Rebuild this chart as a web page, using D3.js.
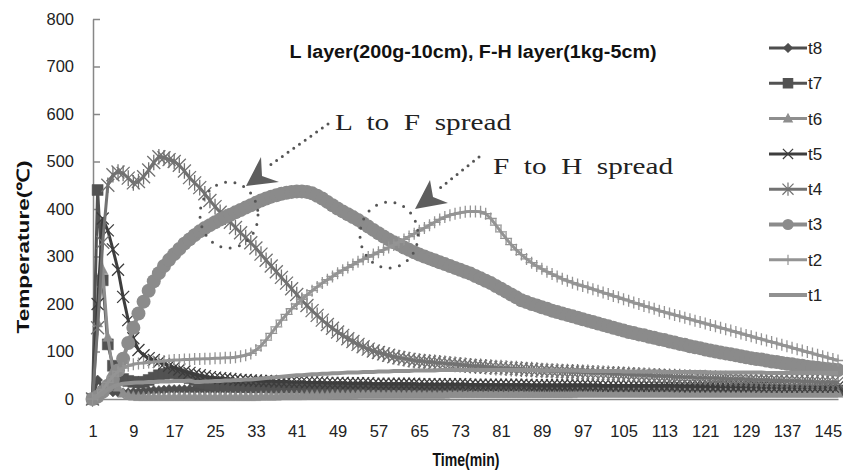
<!DOCTYPE html>
<html><head><meta charset="utf-8">
<script src="https://cdn.jsdelivr.net/npm/d3@7"></script>
<style>body{margin:0;background:#fff}svg{display:block}</style>
</head><body>
<svg id="chart" width="843" height="472"></svg>
<script>
const minutes = [1,2,3,4,5,6,7,8,9,10,11,12,13,14,15,16,17,18,19,20,21,22,23,24,25,26,27,28,29,30,31,32,33,34,35,36,37,38,39,40,41,42,43,44,45,46,47,48,49,50,51,52,53,54,55,56,57,58,59,60,61,62,63,64,65,66,67,68,69,70,71,72,73,74,75,76,77,78,79,80,81,82,83,84,85,86,87,88,89,90,91,92,93,94,95,96,97,98,99,100,101,102,103,104,105,106,107,108,109,110,111,112,113,114,115,116,117,118,119,120,121,122,123,124,125,126,127,128,129,130,131,132,133,134,135,136,137,138,139,140,141,142,143,144,145,146,147];
const xTickLabels = [1,9,17,25,33,41,49,57,65,73,81,89,97,105,113,121,129,137,145];
const yTickLabels = [0,100,200,300,400,500,600,700,800];
const seriesNames = ["t8","t7","t6","t5","t4","t3","t2","t1"];

const t8 = [0,40,25,18,15,14,13,13,14,15, 16,17,18,18,19,20,20,20,20,20, 20,20,20,20,20,20,20,20,20,20, 20,20,20,20,20,20,20,20,20,20, 20,20,20,20,20,20,20,20,20,20, 20,20,20,20,20,20,20,20,20,20, 20,20,20,20,20,20,20,20,20,20, 20,20,20,20,20,20,20,20,20,20, 20,20,20,20,20,19,19,19,19,19, 19,19,19,19,19,19,19,19,19,19, 19,19,19,19,19,19,19,19,19,19, 19,19,19,19,19,19,19,19,19,19, 18,18,18,18,18,18,18,18,18,18, 18,18,18,18,18,18,18,18,18,18, 18,18,18,18,18,18,18];
const t7 = [0,440,250,115,70,50,42,38,36,35, 36,40,45,50,53,55,55,52,48,44, 40,36,33,31,30,29,28,27,26,26, 25,25,25,25,25,24,24,24,24,24, 24,24,23,23,23,23,23,23,23,23, 22,22,22,22,22,22,22,22,22,22, 22,22,21,21,21,21,21,21,21,21, 21,21,21,21,21,21,20,20,20,20, 20,20,20,20,20,20,20,20,20,20, 20,20,20,20,20,20,20,20,19,19, 19,19,19,19,19,19,19,19,19,19, 19,19,19,19,19,19,19,19,19,19, 18,18,18,18,18,18,18,18,18,18, 18,18,18,18,18,18,18,18,18,18, 18,18,18,18,18,18,18];
const t6 = [0,160,272,130,60,25,12,8,6,5, 5,5,5,5,5,5,5,5,5,5, 5,5,5,5,5,5,5,5,5,5, 5,5,5,6,6,6,6,7,7,7, 7,7,8,8,8,8,8,9,9,9, 9,9,10,10,10,10,10,10,10,10, 10,10,10,10,10,10,10,10,10,10, 11,11,11,11,11,11,11,11,11,11, 11,11,11,11,11,11,11,11,11,11, 11,11,11,11,11,12,12,12,12,12, 12,12,12,12,12,12,12,12,12,12, 12,12,12,12,12,12,12,12,12,12, 12,12,12,12,12,12,12,12,12,12, 12,12,12,12,12,12,12,12,12,12, 12,12,12,12,12,12,12];
const t5 = [0,200,380,355,315,272,215,166,128,103, 92,86,82,78,74,70,66,62,58,55, 52,50,48,46,45,44,43,42,41,40, 40,39,39,38,38,38,37,37,37,36, 36,36,35,35,35,35,34,34,34,34, 33,33,33,33,33,32,32,32,32,32, 32,32,32,32,31,31,31,31,31,31, 31,31,31,31,30,30,30,30,30,30, 30,30,30,30,30,30,29,29,29,29, 29,29,29,29,29,29,29,29,29,29, 28,28,28,28,28,28,28,28,28,28, 28,28,28,28,28,27,27,27,27,27, 27,27,27,27,27,27,27,27,27,27, 27,26,26,26,26,26,26,26,26,26, 26,26,26,26,26,26,26];
const t4 = [0,150,330,450,472,478,475,465,455,458, 468,482,498,510,508,504,500,492,480,466, 455,445,432,418,405,393,383,372,361,350, 340,329,318,305,292,280,268,256,244,232, 220,208,197,186,176,166,157,149,141,134, 127,121,115,110,105,101,98,95,92,89, 87,85,83,81,80,79,78,77,76,75, 74,73,72,71,70,69,69,68,67,66, 66,65,64,64,63,62,62,61,60,60, 59,59,58,58,57,57,56,56,55,55, 54,54,53,53,52,52,51,51,50,50, 49,49,48,48,47,47,46,46,45,45, 45,44,44,43,43,42,42,42,41,41, 40,40,40,39,39,39,38,38,38,37, 37,37,36,36,36,35,35];
const t3 = [0,5,15,28,42,60,85,118,150,180, 205,228,248,265,280,293,305,316,327,336, 345,353,360,366,372,378,383,388,393,398, 403,408,413,418,422,426,429,432,434,436, 437,437,436,433,428,422,415,408,401,395, 389,383,377,370,363,356,349,342,336,330, 325,319,314,309,304,300,296,292,288,284, 280,276,272,268,264,259,254,249,244,238, 232,226,220,214,208,204,200,197,193,190, 186,183,180,177,174,171,168,165,162,159, 156,153,150,147,144,141,139,136,134,131, 129,126,124,121,119,116,114,111,109,107, 104,102,100,98,96,94,92,90,88,86, 84,83,81,79,78,76,74,73,71,70, 68,67,66,64,63,62,61];
const t2 = [0,8,20,35,48,58,65,70,73,75, 76,77,78,79,80,81,82,82,83,83, 84,84,85,85,86,86,87,87,88,90, 92,96,103,112,124,138,152,166,178,190, 200,210,219,228,236,244,251,258,265,271, 277,283,289,294,299,304,309,314,319,324, 330,336,342,348,354,360,366,372,378,383, 387,390,392,394,395,395,394,390,380,366, 352,338,325,314,304,295,287,280,274,268, 263,258,253,249,245,241,238,235,231,228, 224,221,217,214,210,207,203,200,196,193, 190,186,183,180,177,174,171,168,165,162, 159,156,153,150,147,144,141,138,135,132, 129,126,123,120,117,114,111,108,105,102, 99,96,93,90,87,84,81];
const t1 = [0,5,12,20,26,30,32,33,34,35, 35,36,36,37,37,37,38,38,38,39, 36,36,37,37,38,38,39,39,40,40, 41,41,42,43,44,45,46,47,48,49, 50,50,51,52,52,53,53,54,54,55, 56,56,56,57,57,57,58,58,58,59, 59,59,59,60,60,60,60,60,61,61, 61,61,61,61,61,61,61,61,61,61, 61,61,61,61,61,61,61,61,60,60, 60,60,60,60,60,60,59,59,59,59, 59,59,59,59,58,58,58,58,58,58, 58,58,57,57,57,57,57,57,57,57, 57,56,56,56,56,56,56,56,56,56, 56,56,55,55,55,55,55,55,55,55, 55,55,55,55,55,55,55];

const seriesValues = [t8,t7,t6,t5,t4,t3,t2,t1];
const styles = {
  t8:{color:"#4e4e4e", width:3, marker:"diamond", size:5},
  t7:{color:"#525252", width:3, marker:"square", size:5.5},
  t6:{color:"#8e8e8e", width:3, marker:"triangle", size:5},
  t5:{color:"#3d3d3d", width:3, marker:"x", size:6},
  t4:{color:"#727272", width:3, marker:"asterisk", size:6.5},
  t3:{color:"#8b8b8b", width:4, marker:"circle", size:7},
  t2:{color:"#949494", width:3, marker:"plus", size:6},
  t1:{color:"#919191", width:4, marker:"none", size:0}
};

function markerPath(type, s){
  switch(type){
    case "diamond": return `M0,${-s}L${s},0L0,${s}L${-s},0Z`;
    case "square": return `M${-s},${-s}H${s}V${s}H${-s}Z`;
    case "triangle": return `M0,${-s*1.1}L${s},${s*0.8}L${-s},${s*0.8}Z`;
    case "x": return `M${-s},${-s}L${s},${s}M${-s},${s}L${s},${-s}`;
    case "asterisk": return `M${-s},${-s}L${s},${s}M${-s},${s}L${s},${-s}M0,${-s*1.2}L0,${s*1.2}`;
    case "plus": return `M0,${-s}L0,${s}M${-s},0L${s},0`;
  }
  return "";
}
const filled = t => ["diamond","square","triangle"].includes(t);

const svg = d3.select("#chart");
const x = d3.scaleLinear().domain([1,147]).range([92.5,838]);
const y = d3.scaleLinear().domain([0,800]).range([399,19]);
const FONT = "'Liberation Sans', Arial, sans-serif";

// axes
const yAxis = d3.axisLeft(y).tickValues(yTickLabels).tickSizeInner(-7).tickSizeOuter(0).tickPadding(19);
const gy = svg.append("g").attr("transform","translate(93,0)").call(yAxis);
gy.selectAll("path, line").attr("stroke","#878787").attr("stroke-width",1.5);
gy.selectAll("text").attr("font-family",FONT).attr("font-size",16.5).attr("fill","#222");

const xAxis = d3.axisBottom(x).tickValues(xTickLabels).tickSize(0).tickPadding(26);
const gx = svg.append("g").attr("transform","translate(0,399)").call(xAxis);
gx.select("path").attr("stroke","#878787").attr("stroke-width",1.5);
gx.selectAll("text").attr("font-family",FONT).attr("font-size",16.5).attr("fill","#222");

// series
const line = d3.line().x((d,i)=>x(minutes[i])).y(d=>y(d));
seriesNames.forEach((name,k)=>{
  const st = styles[name];
  const vals = seriesValues[k];
  const g = svg.append("g");
  g.append("path").attr("d", line(vals)).attr("fill","none")
    .attr("stroke", st.color).attr("stroke-width", st.width).attr("stroke-linejoin","round");
  if(st.marker === "circle"){
    g.selectAll("circle").data(vals).join("circle")
      .attr("cx",(d,i)=>x(minutes[i])).attr("cy",d=>y(d)).attr("r",st.size).attr("fill",st.color);
  } else if(st.marker !== "none"){
    g.selectAll("path.m").data(vals).join("path").attr("class","m")
      .attr("transform",(d,i)=>`translate(${x(minutes[i])},${y(d)})`)
      .attr("d", markerPath(st.marker, st.size))
      .attr("fill", filled(st.marker)?st.color:"none")
      .attr("stroke", st.color).attr("stroke-width", filled(st.marker)?0.5:1.3);
  }
});

// title
svg.append("text").attr("x",473).attr("y",58).attr("text-anchor","middle")
  .attr("font-family",FONT).attr("font-weight","bold").attr("font-size",18)
  .attr("textLength",367).attr("lengthAdjust","spacingAndGlyphs").attr("fill","#111")
  .text("L layer(200g-10cm), F-H layer(1kg-5cm)");

// axis titles
svg.append("text").attr("transform","translate(29,247) rotate(-90)").attr("text-anchor","middle")
  .attr("font-family",FONT).attr("font-weight","bold").attr("font-size",17)
  .attr("textLength",173).attr("lengthAdjust","spacingAndGlyphs").attr("fill","#111")
  .text("Temperature(℃)");
svg.append("text").attr("x",466).attr("y",466).attr("text-anchor","middle")
  .attr("font-family",FONT).attr("font-weight","bold").attr("font-size",18)
  .attr("textLength",67).attr("lengthAdjust","spacingAndGlyphs").attr("fill","#111")
  .text("Time(min)");

// legend
const lg = svg.append("g");
seriesNames.forEach((name,k)=>{
  const st = styles[name];
  const ly = 48 + k*35.3;
  lg.append("line").attr("x1",769).attr("x2",807).attr("y1",ly).attr("y2",ly)
    .attr("stroke",st.color).attr("stroke-width",st.width);
  if(st.marker === "circle"){
    lg.append("circle").attr("cx",788).attr("cy",ly).attr("r",st.size*0.8).attr("fill",st.color);
  } else if(st.marker !== "none"){
    lg.append("path").attr("transform",`translate(788,${ly})`).attr("d",markerPath(st.marker,st.size*0.85))
      .attr("fill", filled(st.marker)?st.color:"none").attr("stroke",st.color).attr("stroke-width",1.2);
  }
  lg.append("text").attr("x",808).attr("y",ly).attr("dy","0.35em")
    .attr("font-family",FONT).attr("font-size",17).attr("fill","#222").text(name);
});

// annotations
const ann = svg.append("g");
const dotted = (x1,y1,x2,y2)=>ann.append("line").attr("x1",x1).attr("y1",y1).attr("x2",x2).attr("y2",y2)
  .attr("stroke","#555").attr("stroke-width",3).attr("stroke-linecap","round").attr("stroke-dasharray","0 7");
dotted(328,124,266,168);
dotted(479,157,440,188);
ann.append("path").attr("d","M246,186L261,157L262,176L279,182Z").attr("fill","#5e5e5e");
ann.append("path").attr("d","M415,209L430,180L433,197L448,203Z").attr("fill","#5e5e5e");
[[229,215],[389,235]].forEach(c=>{
  ann.append("ellipse").attr("cx",c[0]).attr("cy",c[1]).attr("rx",29).attr("ry",33)
    .attr("fill","none").attr("stroke","#555").attr("stroke-width",3)
    .attr("stroke-linecap","round").attr("stroke-dasharray","0 9.5");
});
const SERIF = "'Liberation Serif', 'Times New Roman', serif";
ann.append("text").attr("x",335).attr("y",130).attr("font-family",SERIF).attr("font-size",24)
  .attr("word-spacing",6).attr("textLength",176).attr("lengthAdjust","spacingAndGlyphs").attr("fill","#222").text("L to F spread");
ann.append("text").attr("x",493).attr("y",174).attr("font-family",SERIF).attr("font-size",24)
  .attr("word-spacing",6).attr("textLength",180).attr("lengthAdjust","spacingAndGlyphs").attr("fill","#222").text("F to H spread");
</script>
</body></html>
